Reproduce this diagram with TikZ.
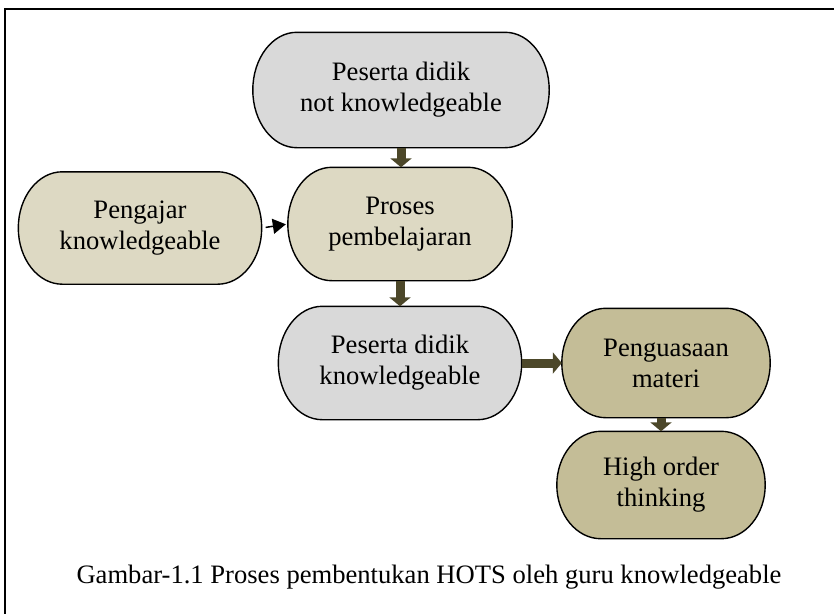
\documentclass[tikz,border=0pt]{standalone}
\usepackage{fontspec}
\setmainfont{Liberation Serif}
\usetikzlibrary{arrows.meta,calc,backgrounds}

\definecolor{pillgray}{HTML}{D9D9D9}
\definecolor{pillbeige}{HTML}{DDD9C3}
\definecolor{pilltan}{HTML}{C4BD97}
\definecolor{arrowolive}{HTML}{4C4729}

\tikzset{
  pill/.style={draw=none, inner sep=0pt, align=center, text=black,
    font=\fontsize{26.6pt}{31pt}\selectfont},
  outline/.style={draw=black, line width=1.4pt},
  bigarrow/.style={draw=arrowolive, line width=9pt,
    -{Triangle[length=9pt,width=21pt]}, color=arrowolive},
  smallarrow/.style={draw=black, line width=1.5pt,
    -{Triangle[length=13pt,width=15pt]}, shorten <=4pt, shorten >=2pt},
  caption/.style={inner sep=0pt, font=\fontsize{26.6pt}{31pt}\selectfont}
}

% elliptical-ended box drawn behind a named node
\newcommand{\pillshape}[2]{%
  \begin{scope}[on background layer]
    \draw[outline, fill=#2]
      let \p1=(#1.north west), \p2=(#1.south east),
          \n1={(\y1-\y2)/2}, \n2={44pt} in
      (\x1+\n2,\y1) -- (\x2-\n2,\y1)
      arc[start angle=90, end angle=-90, x radius=\n2, y radius=\n1]
      -- (\x1+\n2,\y2)
      arc[start angle=270, end angle=90, x radius=\n2, y radius=\n1]
      -- cycle;
  \end{scope}}

\begin{document}
\begin{tikzpicture}[x=1pt, y=-1pt]
  \useasboundingbox (0,0) rectangle (834,613);
  \clip (0,0) rectangle (834,613);
  \begin{scope}[on background layer]
    \fill[white] (0,0) rectangle (834,613);
  \end{scope}

  % frame around the figure (only its top and left sides fall on the page)
  \draw[line width=2pt, line cap=rect] (900,9) -- (5,9) -- (5,700);

  % nodes
  \node[pill, minimum width=296pt, minimum height=115pt] (n1) at (401,90)
    {Peserta didik\\not knowledgeable};
  \node[pill, minimum width=243pt, minimum height=112pt] (peng) at (140,228)
    {Pengajar\\knowledgeable};
  \node[pill, minimum width=224pt, minimum height=113pt] (proses) at (400,224)
    {Proses\\pembelajaran};
  \node[pill, minimum width=243pt, minimum height=113pt] (pdk) at (400,363)
    {Peserta didik\\knowledgeable};
  \node[pill, minimum width=208pt, minimum height=109pt] (pengu) at (666,363)
    {Penguasaan\\materi};
  \node[pill, minimum width=208pt, minimum height=107pt] (high) at (661,485)
    {High order\\thinking};

  \pillshape{n1}{pillgray}
  \pillshape{peng}{pillbeige}
  \pillshape{proses}{pillbeige}
  \pillshape{pdk}{pillgray}
  \pillshape{pengu}{pilltan}
  \pillshape{high}{pilltan}

  % connectors
  \draw[bigarrow] (n1.south) -- (n1.south |- proses.north);
  \draw[bigarrow] (proses.south) -- (proses.south |- pdk.north);
  \draw[bigarrow] (pdk.east) -- (pengu.west);
  \draw[bigarrow] (high.north |- pengu.south) -- (high.north);
  \draw[smallarrow] (peng.east) -- (proses.west);

  % caption
  \node[caption] (cap) at (429,577)
    {Gambar-1.1 Proses pembentukan HOTS oleh guru knowledgeable};
\end{tikzpicture}
\end{document}
